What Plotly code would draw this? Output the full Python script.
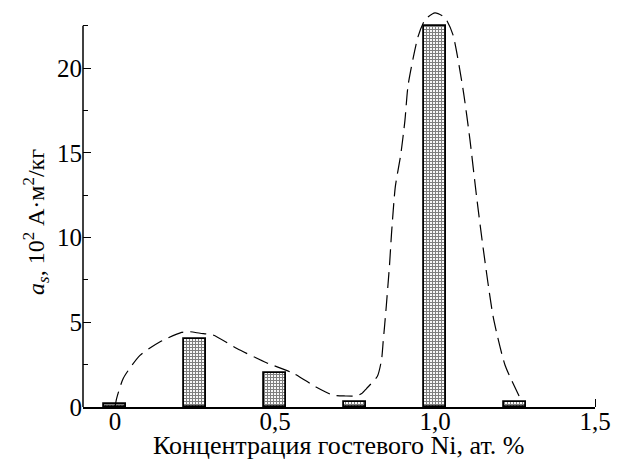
import plotly.graph_objects as go

# Bars: concentration of guest Ni (at. %) and a_s (10^2 A·m^2/kg)
bar_x = [0.0, 0.25, 0.5, 0.75, 1.0, 1.25]
bar_y = [0.15, 4.0, 2.0, 0.3, 22.5, 0.3]

# Dashed guide curve
curve_x = [0, 0.005, 0.026, 0.078, 0.141, 0.208, 0.23, 0.266, 0.306, 0.381, 0.475,
           0.556, 0.631, 0.681, 0.72, 0.753, 0.771, 0.786, 0.82, 0.833, 0.838, 0.843,
           0.848, 0.853, 0.858, 0.864, 0.876, 0.893, 0.906, 0.916, 0.947, 0.969, 1.0,
           1.031, 1.056, 1.088, 1.109, 1.13, 1.151, 1.182, 1.219, 1.264]
curve_y = [0, 0.5, 1.7, 3.05, 3.85, 4.4, 4.45, 4.35, 4.25, 3.45, 2.6,
           2.0, 1.15, 0.7, 0.65, 0.65, 0.79, 1.09, 1.81, 2.8, 3.84, 4.9,
           6.0, 7.2, 8.4, 10.2, 13.0, 14.9, 16.9, 19.0, 21.85, 22.85, 23.25,
           22.97, 21.97, 18.7, 15.8, 12.4, 9.3, 5.3, 2.46, 0.6]

x_tickvals = [0, 0.5, 1.0, 1.5]
x_ticktext = ["0", "0,5", "1,0", "1,5"]
y_tickvals = [0, 5, 10, 15, 20]

FAM = "Liberation Serif"
TICKF = dict(family=FAM, size=25, color="black")
TITLEF = dict(family=FAM, size=26, color="black")
YTITLEF = dict(family=FAM, size=24, color="black")

fig = go.Figure()
fig.add_trace(go.Bar(
    x=bar_x, y=bar_y, width=0.07,
    marker=dict(color="white", line=dict(color="black", width=1.8),
                pattern=dict(shape="+", fgcolor="black", bgcolor="white",
                             size=3, solidity=0.6)),
    showlegend=False,
))
fig.add_trace(go.Scatter(
    x=curve_x, y=curve_y, mode="lines",
    line=dict(color="black", width=1.2, dash="16px,7px", shape="spline", smoothing=0.6),
    showlegend=False, cliponaxis=False,
))

fig.update_layout(
    width=620, height=467,
    margin=dict(l=83, r=25, t=7, b=60, autoexpand=False),
    paper_bgcolor="white", plot_bgcolor="white",
    font=TICKF,
    xaxis=dict(range=[-0.1, 1.5], showgrid=False, zeroline=False, automargin=False,
               showline=True, linecolor="black", linewidth=1.5,
               tickvals=x_tickvals, ticktext=x_ticktext, ticks="",
               ticklabelstandoff=-9,
               minor=dict(tickvals=[1.5], ticks="inside", ticklen=8,
                          tickcolor="black", tickwidth=1),
               tickfont=TICKF),
    yaxis=dict(range=[0, 23.6], showgrid=False, zeroline=False, automargin=False,
               showline=False, tickvals=y_tickvals, ticks="inside",
               ticklen=8, tickcolor="black", tickwidth=1,
               minor=dict(dtick=2.5, tick0=0, ticks="inside", ticklen=5,
                          tickcolor="black", tickwidth=1),
               tickfont=TICKF),
    bargap=0,
)

# left axis line that stops at 22.5
fig.add_shape(type="line", xref="paper", yref="y", x0=0, x1=0, y0=0, y1=22.5,
              line=dict(color="black", width=1.5), layer="above")

fig.add_annotation(
    text="<i>a<sub>s</sub></i>, 10<sup>2</sup> А·м<sup>2</sup>/кг",
    xref="paper", yref="paper", x=-0.092, y=0.4625,
    xanchor="center", yanchor="middle", textangle=-90,
    showarrow=False, font=YTITLEF,
)
fig.add_annotation(
    text="Концентрация гостевого Ni, ат. %",
    xref="paper", yref="paper", x=0.5, y=-0.095,
    xanchor="center", yanchor="middle",
    showarrow=False, font=TITLEF,
)

fig.write_html("out.html", post_script="document.body.style.margin='0';",
               config={"displayModeBar": False})
